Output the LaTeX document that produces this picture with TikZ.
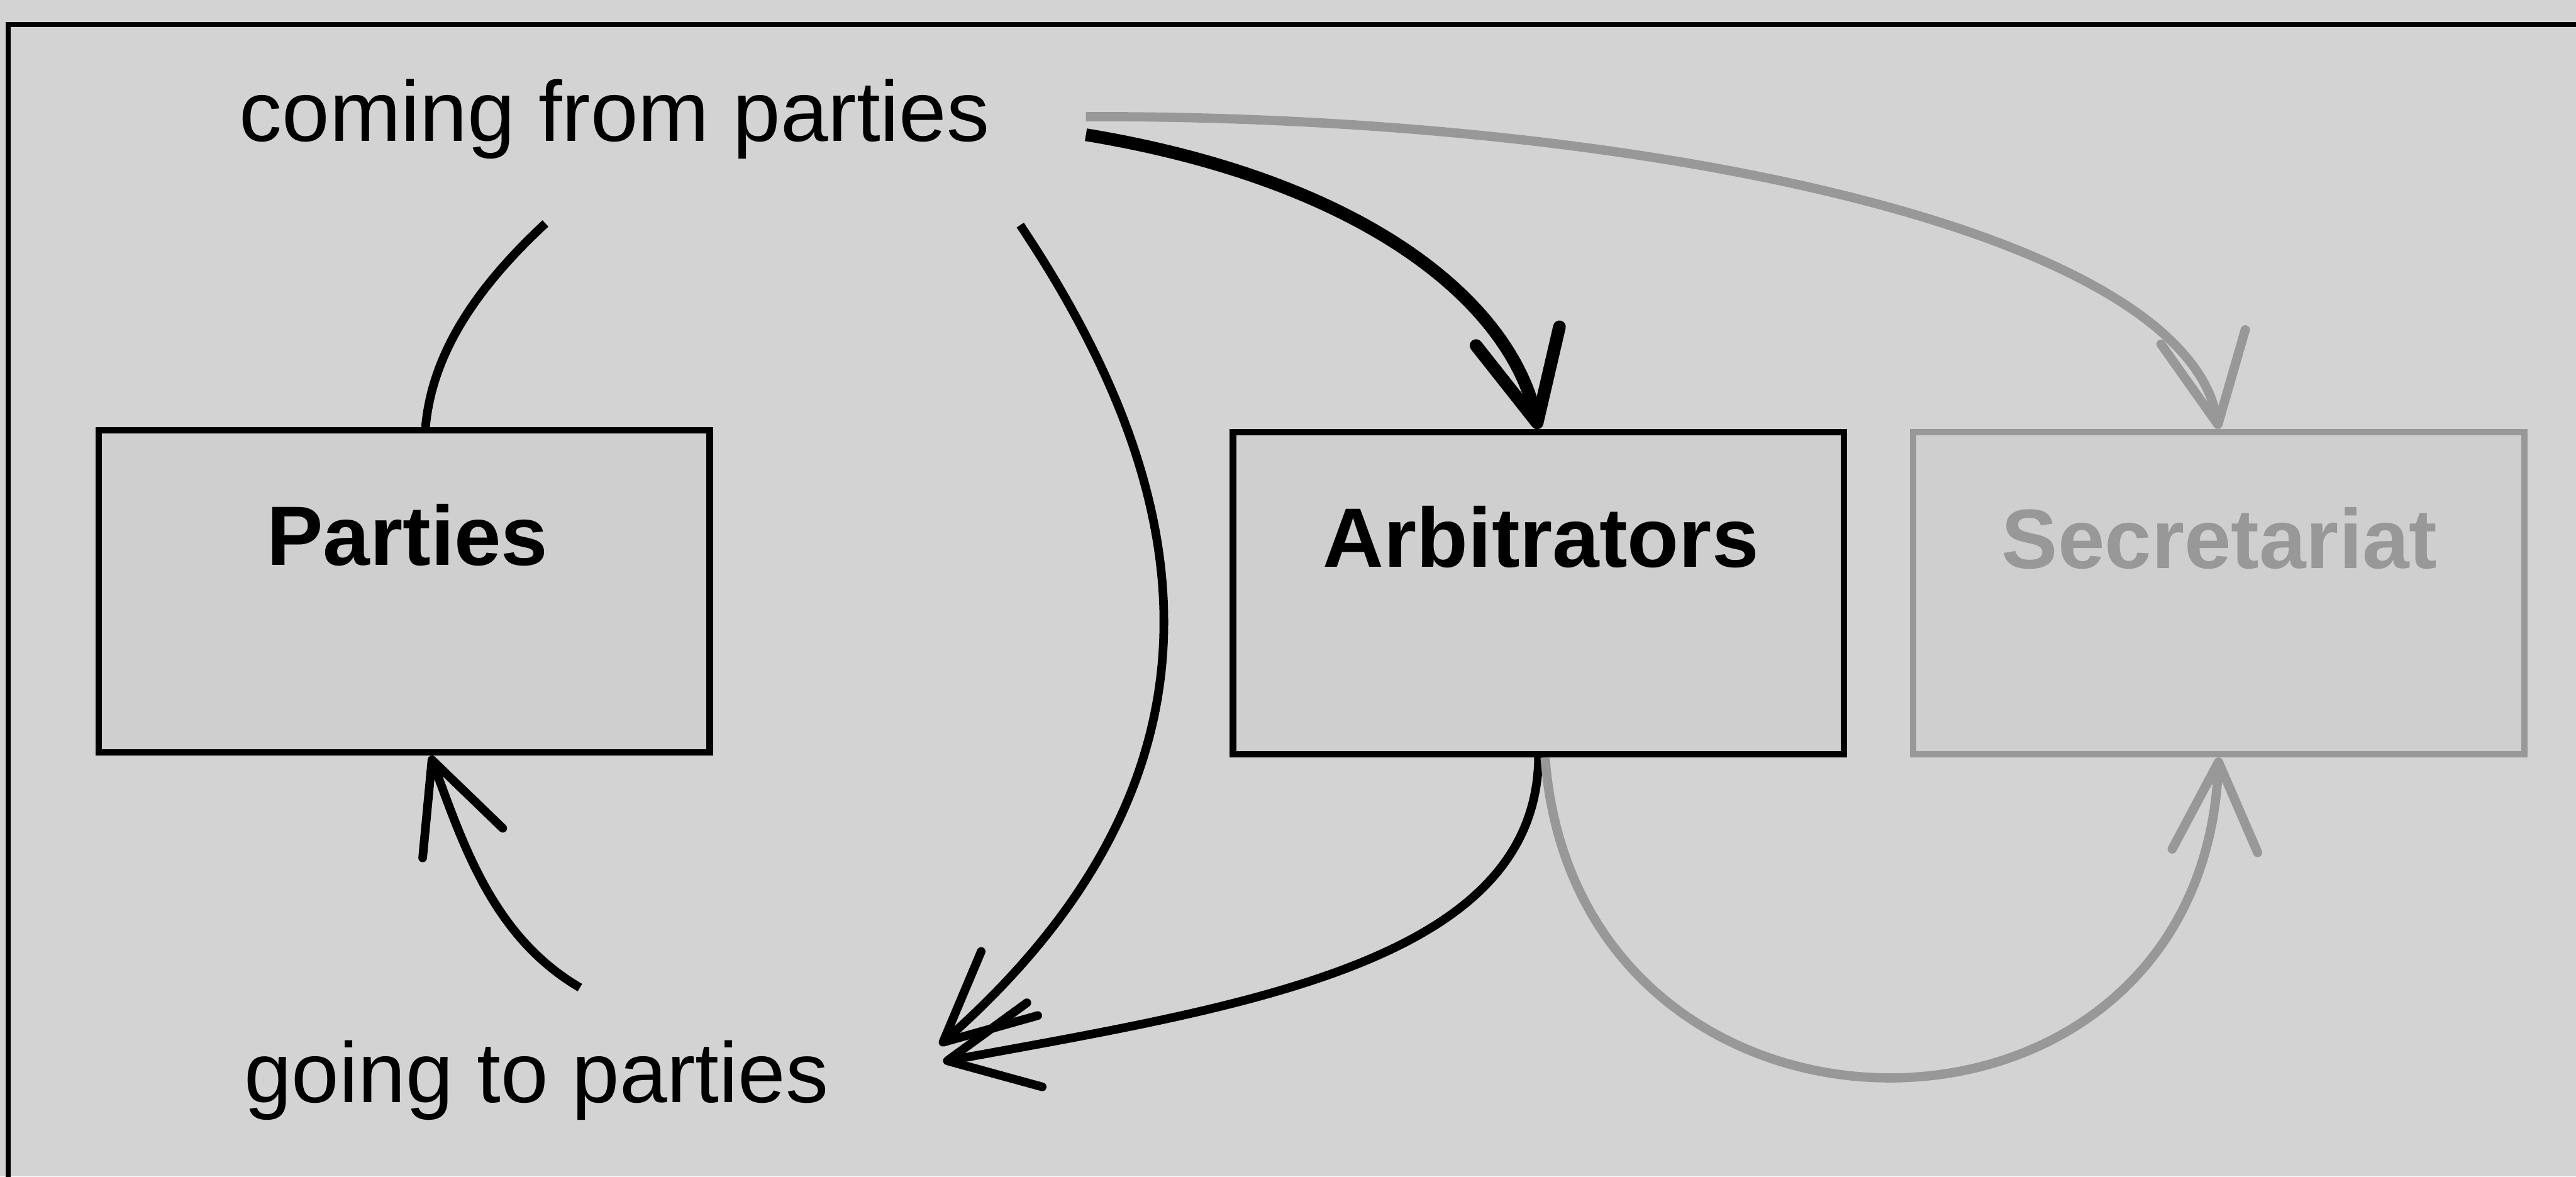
\documentclass[tikz,border=0pt]{standalone}
\usepackage{fontspec}
\setmainfont{Liberation Sans}
\usetikzlibrary{arrows.meta}
\definecolor{paper}{HTML}{D3D3D3}
\definecolor{boxfill}{HTML}{CFCFCF}
\definecolor{faint}{HTML}{989898}
\begin{document}
\begin{tikzpicture}[x=0.1mm,y=-0.1mm,
  box/.style={draw=black, fill=boxfill, line width=1.1pt, minimum width=37.2mm, minimum height=19.6mm, inner sep=0pt},
  fadedbox/.style={box, draw=faint},
  boxtext/.style={font=\bfseries\fontsize{14.6}{17}\selectfont, inner sep=0pt, anchor=base},
  lbl/.style={font=\fontsize{14.8}{17}\selectfont, inner sep=0pt, anchor=base west},
  tip/.style={-{Straight Barb[length=5.4mm, width=5.2mm, round]}},
  flow/.style={line width=1.5pt, black},
  fadedflow/.style={flow, line width=1.6pt, draw=faint}]
\useasboundingbox (0,0) rectangle (1568,716);
\fill[paper] (0,0) rectangle (1568,716);
% outer frame, running off the right and bottom edges
\begin{scope}
  \clip (0,0) rectangle (1568,716);
  \draw[line width=0.8pt] (1600,15) -- (5,15) -- (5,760);
\end{scope}

% boxes
\node[box] (parties) at (246,360) {};
\node[box] (arbitrators) at (936.5,361) {};
\node[fadedbox] (secretariat) at (1350.5,361) {};
\node[boxtext] (partiestxt) at (248,344) {Parties};
\node[boxtext] (arbitratorstxt) at (938,345) {Arbitrators};
\node[boxtext, text=faint] (secretariattxt) at (1351,346) {Secretariat};

% labels
\node[lbl] (coming) at (145,86) {coming from parties};
\node[lbl] (going) at (148,671) {going to parties};

% loose ends of the flows
\coordinate (upleft) at (332,136);
\coordinate (upright) at (621,137);
\coordinate (outblack) at (661,82);
\coordinate (outgray) at (661,71);
\coordinate (downleft) at (353,601);
\coordinate (intip) at (572,636);
\coordinate (intipb) at (574,646);

% flows
\draw[flow] ([xshift=1.3mm]parties.north) .. controls (263,215) and (290,175) .. (upleft);
\draw[flow, tip] (upright) .. controls (730,300) and (760,470) .. (intip);
\draw[flow, tip] (downleft) .. controls (300,570) and (282,514) .. ([xshift=1.6mm]parties.south);
\draw[flow, line width=2.2pt, tip] (outblack) .. controls (830,110) and (919,183) .. (arbitrators.north);
\draw[fadedflow, tip] (outgray) .. controls (1000,70) and (1330,140) .. (secretariat.north);
\draw[flow, tip] (arbitrators.south) .. controls (935,585) and (760,612) .. (intipb);
\draw[fadedflow, tip] ([xshift=0.4mm]arbitrators.south) .. controls (960,720) and (1340,720) .. (secretariat.south);
\end{tikzpicture}
\end{document}
